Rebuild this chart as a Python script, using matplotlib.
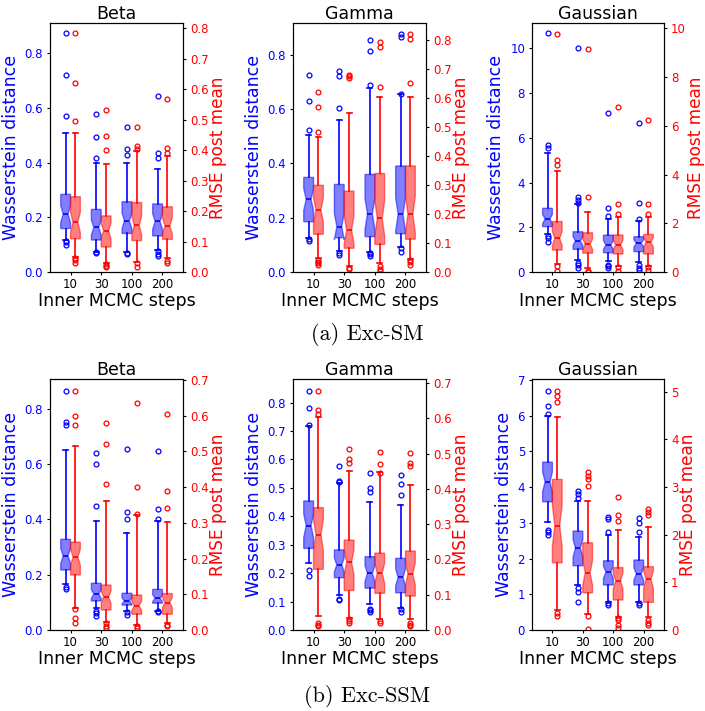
import matplotlib
matplotlib.use('Agg')
import matplotlib.pyplot as plt
from matplotlib.ticker import MultipleLocator
import numpy as np

steps = ['10', '30', '100', '200']
n_runs = 40  # runs per box, used for the notch width

# rows: whislo, q1, median, q3, whishi  (one row per MCMC step setting)
# ---- (a) Exc-SM ----
sm_beta_wass = [[0.117, 0.159, 0.212, 0.284, 0.510],
                [0.074, 0.117, 0.163, 0.229, 0.398],
                [0.074, 0.141, 0.187, 0.257, 0.398],
                [0.080, 0.132, 0.185, 0.249, 0.377]]
sm_beta_wass_out = [[0.873, 0.721, 0.572, 0.113, 0.108, 0.100],
                    [0.577, 0.493, 0.416, 0.073, 0.071],
                    [0.529, 0.451, 0.427, 0.071, 0.066],
                    [0.645, 0.434, 0.418, 0.075, 0.066, 0.060]]
sm_beta_rmse = [[0.050, 0.109, 0.163, 0.247, 0.457],
                [0.028, 0.082, 0.135, 0.184, 0.354],
                [0.034, 0.103, 0.153, 0.228, 0.398],
                [0.045, 0.107, 0.151, 0.214, 0.379]]
sm_beta_rmse_out = [[0.783, 0.621, 0.497, 0.045, 0.040, 0.030],
                    [0.530, 0.447, 0.400, 0.025, 0.020, 0.015],
                    [0.476, 0.412, 0.405, 0.030, 0.015],
                    [0.568, 0.406, 0.390, 0.035, 0.030]]

sm_gamma_wass = [[0.124, 0.185, 0.267, 0.348, 0.504],
                 [0.077, 0.126, 0.167, 0.322, 0.559],
                 [0.075, 0.130, 0.214, 0.359, 0.675],
                 [0.091, 0.141, 0.212, 0.390, 0.653]]
sm_gamma_wass_out = [[0.724, 0.629, 0.522, 0.120, 0.114],
                     [0.740, 0.721, 0.604, 0.070, 0.062],
                     [0.853, 0.812, 0.688, 0.070, 0.065, 0.060],
                     [0.875, 0.865, 0.655, 0.090, 0.072]]
sm_gamma_rmse = [[0.047, 0.130, 0.214, 0.299, 0.464],
                 [0.022, 0.082, 0.145, 0.279, 0.547],
                 [0.030, 0.095, 0.185, 0.340, 0.602],
                 [0.044, 0.113, 0.199, 0.366, 0.602]]
sm_gamma_rmse_out = [[0.622, 0.570, 0.482, 0.040, 0.035, 0.030, 0.025],
                     [0.679, 0.675, 0.670, 0.015, 0.010],
                     [0.794, 0.775, 0.639, 0.020, 0.010, 0.005],
                     [0.821, 0.803, 0.651, 0.040, 0.035, 0.025]]

sm_gauss_wass = [[1.70, 2.03, 2.37, 2.85, 5.31],
                 [0.54, 1.01, 1.39, 1.80, 3.04],
                 [0.51, 0.86, 1.21, 1.65, 2.35],
                 [0.46, 0.91, 1.28, 1.58, 2.30]]
sm_gauss_wass_out = [[10.67, 5.68, 5.53, 1.62, 1.50, 1.35],
                     [10.0, 3.35, 3.20, 3.10, 0.40, 0.30, 0.20],
                     [7.09, 2.85, 2.50, 0.30, 0.25, 0.20],
                     [6.65, 3.07, 2.38, 0.30, 0.20, 0.10]]
sm_gauss_rmse = [[0.31, 0.90, 1.38, 2.07, 4.16],
                 [0.15, 0.77, 1.14, 1.61, 2.45],
                 [0.26, 0.74, 1.11, 1.52, 2.24],
                 [0.26, 0.74, 1.22, 1.54, 2.24]]
sm_gauss_rmse_out = [[9.75, 4.60, 4.40, 0.25, 0.05],
                     [9.15, 3.06, 0.05, 0.02],
                     [6.78, 2.79, 2.40, 0.20, 0.05],
                     [6.24, 2.79, 2.40, 0.20, 0.10]]

# ---- (b) Exc-SSM ----
ssm_beta_wass = [[0.165, 0.217, 0.268, 0.328, 0.651],
                 [0.078, 0.105, 0.130, 0.169, 0.396],
                 [0.069, 0.090, 0.105, 0.133, 0.352],
                 [0.069, 0.097, 0.115, 0.147, 0.396]]
ssm_beta_wass_out = [[0.865, 0.754, 0.742, 0.155, 0.150],
                     [0.642, 0.600, 0.450, 0.070, 0.060, 0.050],
                     [0.655, 0.426, 0.400, 0.065, 0.055],
                     [0.648, 0.437, 0.400, 0.068, 0.065]]
ssm_beta_rmse = [[0.061, 0.154, 0.204, 0.246, 0.514],
                 [0.023, 0.056, 0.092, 0.126, 0.361],
                 [0.014, 0.044, 0.068, 0.098, 0.322],
                 [0.019, 0.044, 0.077, 0.102, 0.303]]
ssm_beta_rmse_out = [[0.670, 0.600, 0.574, 0.060, 0.035, 0.020],
                     [0.581, 0.520, 0.408, 0.020, 0.010, 0.005],
                     [0.635, 0.400, 0.325, 0.010, 0.005],
                     [0.605, 0.390, 0.343, 0.015, 0.010]]

ssm_gamma_wass = [[0.235, 0.287, 0.367, 0.454, 0.718],
                  [0.123, 0.184, 0.229, 0.282, 0.516],
                  [0.090, 0.147, 0.199, 0.258, 0.452],
                  [0.079, 0.131, 0.185, 0.252, 0.440]]
ssm_gamma_wass_out = [[0.841, 0.782, 0.722, 0.210, 0.190],
                      [0.578, 0.525, 0.520, 0.110, 0.105],
                      [0.554, 0.500, 0.485, 0.075, 0.070, 0.065],
                      [0.545, 0.515, 0.475, 0.075, 0.065]]
ssm_gamma_rmse = [[0.040, 0.172, 0.270, 0.347, 0.604],
                  [0.035, 0.112, 0.192, 0.255, 0.452],
                  [0.030, 0.104, 0.161, 0.218, 0.449],
                  [0.031, 0.096, 0.159, 0.224, 0.410]]
ssm_gamma_rmse_out = [[0.678, 0.624, 0.612, 0.020, 0.015, 0.010],
                      [0.514, 0.485, 0.475, 0.030, 0.025, 0.020],
                      [0.506, 0.470, 0.445, 0.025, 0.020],
                      [0.503, 0.475, 0.465, 0.020, 0.015, 0.010]]

ssm_gauss_wass = [[3.03, 3.59, 4.15, 4.70, 5.99],
                  [1.26, 1.80, 2.29, 2.77, 3.62],
                  [0.79, 1.26, 1.62, 1.94, 2.66],
                  [0.79, 1.26, 1.57, 1.96, 2.61]]
ssm_gauss_wass_out = [[6.70, 6.26, 6.05, 2.80, 2.75, 2.65],
                      [3.90, 3.80, 3.71, 1.17, 1.07, 0.79],
                      [3.16, 3.10, 2.74, 0.75, 0.70],
                      [3.15, 3.00, 2.74, 0.75, 0.70]]
ssm_gauss_rmse = [[0.42, 1.41, 2.19, 3.16, 4.46],
                  [0.33, 0.78, 1.20, 1.83, 2.71],
                  [0.28, 0.63, 1.03, 1.31, 2.10],
                  [0.28, 0.58, 1.06, 1.33, 2.17]]
ssm_gauss_rmse_out = [[5.02, 4.90, 4.79, 0.35, 0.30],
                      [3.31, 3.24, 3.17, 3.02, 0.30, 0.02],
                      [2.80, 2.41, 2.29, 0.25, 0.20, 0.10, 0.05],
                      [2.54, 2.48, 2.41, 0.20, 0.15, 0.10]]


def make_stats(rows, outs):
    stats = []
    for (lo, q1, med, q3, hi), fl in zip(rows, outs):
        half = 1.57 * (q3 - q1) / np.sqrt(n_runs)
        stats.append(dict(whislo=lo, q1=q1, med=med, q3=q3, whishi=hi,
                          fliers=fl, cilo=med - half, cihi=med + half))
    return stats


def draw_boxes(ax, rows, outs, pos, color):
    ax.bxp(make_stats(rows, outs), positions=pos, widths=0.32,
           patch_artist=True, shownotches=True, manage_ticks=False,
           boxprops=dict(facecolor=color, edgecolor=color, alpha=0.5),
           medianprops=dict(color=color, lw=1.2),
           whiskerprops=dict(color=color, lw=1.2),
           capprops=dict(color=color, lw=1.2),
           flierprops=dict(marker='o', markerfacecolor='none',
                           markeredgecolor=color, markersize=3.5,
                           markeredgewidth=0.9))


# title, wass, wass outliers, rmse, rmse outliers, left ylim/step, right ylim/step
panels = [
    ('Beta', sm_beta_wass, sm_beta_wass_out, sm_beta_rmse, sm_beta_rmse_out, 0.912, 0.2, 0.818, 0.1),
    ('Gamma', sm_gamma_wass, sm_gamma_wass_out, sm_gamma_rmse, sm_gamma_rmse_out, 0.917, 0.2, 0.86, 0.1),
    ('Gaussian', sm_gauss_wass, sm_gauss_wass_out, sm_gauss_rmse, sm_gauss_rmse_out, 11.15, 2, 10.23, 2),
    ('Beta', ssm_beta_wass, ssm_beta_wass_out, ssm_beta_rmse, ssm_beta_rmse_out, 0.907, 0.2, 0.702, 0.1),
    ('Gamma', ssm_gamma_wass, ssm_gamma_wass_out, ssm_gamma_rmse, ssm_gamma_rmse_out, 0.882, 0.1, 0.711, 0.1),
    ('Gaussian', ssm_gauss_wass, ssm_gauss_wass_out, ssm_gauss_rmse, ssm_gauss_rmse_out, 7.02, 1, 5.26, 1),
]

W, H = 705, 711
fig = plt.figure(figsize=(W / 100, H / 100), dpi=100)
col_px = [(50, 133), (293, 133), (532, 132)]
row_px = [(22.7, 272), (379.3, 630)]

x = np.arange(1, len(steps) + 1)
for i, (title, wass, wass_out, rmse, rmse_out, ytop, ystep, rtop, rstep) in enumerate(panels):
    r, c = divmod(i, 3)
    left, width = col_px[c]
    top, bottom = row_px[r]
    ax = fig.add_axes([left / W, (H - bottom) / H, width / W, (bottom - top) / H])
    ax2 = ax.twinx()

    draw_boxes(ax, wass, wass_out, x - 0.16, 'blue')
    draw_boxes(ax2, rmse, rmse_out, x + 0.16, 'red')

    ax.set_xlim(0.33, 4.67)
    ax.set_xticks(x)
    ax.set_xticklabels(steps, fontsize=8.5)
    ax.set_ylim(0, ytop)
    ax.yaxis.set_major_locator(MultipleLocator(ystep))
    ax2.set_ylim(0, rtop)
    ax2.yaxis.set_major_locator(MultipleLocator(rstep))
    ax.tick_params(axis='x', length=2, pad=2)
    ax.tick_params(axis='y', labelcolor='blue', labelsize=8.5, length=2.5, pad=2.5)
    ax2.tick_params(axis='y', labelcolor='red', labelsize=8.5, length=2.5, pad=2.5)

    ax.set_title(title, fontsize=12.5, pad=3)
    ax.set_xlabel('Inner MCMC steps', fontsize=12.5, labelpad=1)
    ax.set_ylabel('Wasserstein distance', color='blue', fontsize=12.5, labelpad=3.5)
    ax2.set_ylabel('RMSE post mean', color='red', fontsize=12.2, labelpad=0.5)

fig.text(0.521, 1 - 335 / H, '(a) Exc-SM', ha='center', va='center', family='cmr10', fontsize=16)
fig.text(0.521, 1 - 697 / H, '(b) Exc-SSM', ha='center', va='center', family='cmr10', fontsize=16)

fig.savefig('out.png', dpi=100)
